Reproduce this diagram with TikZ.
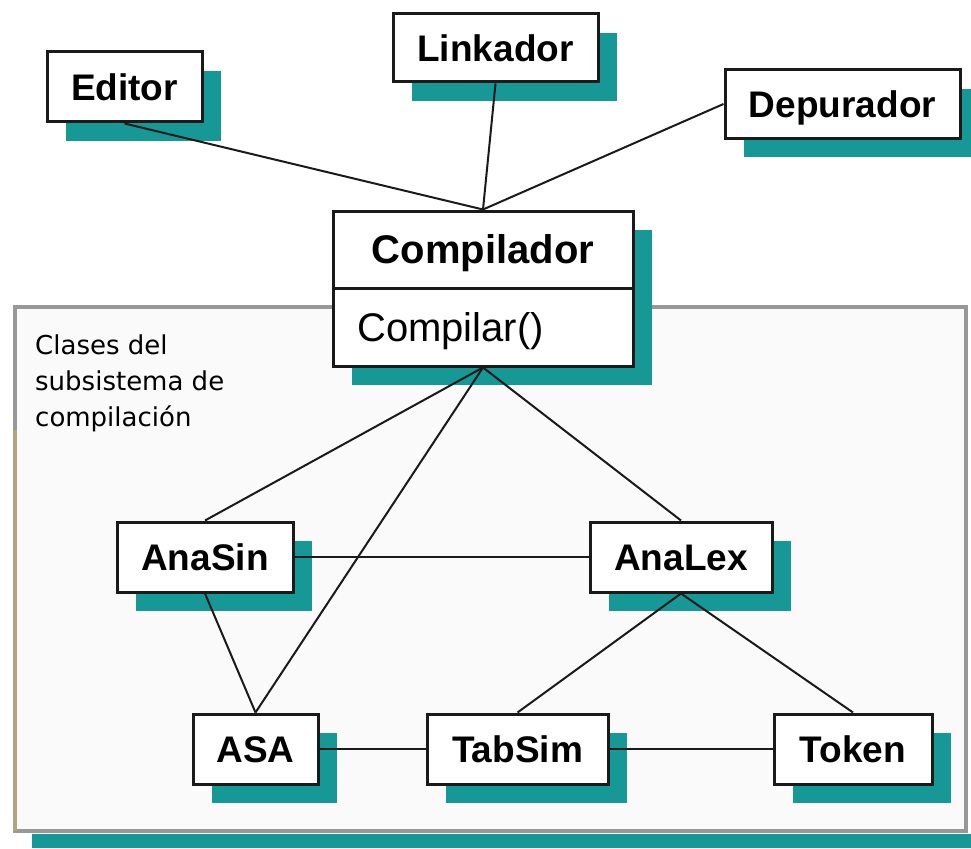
\documentclass[tikz,border=0pt]{standalone}
\usepackage{fontspec}
\setmainfont{Liberation Sans}
\newfontfamily\notefont{DejaVu Sans}
\usetikzlibrary{shadows}
\definecolor{shteal}{RGB}{22,152,150}
\definecolor{framegray}{RGB}{152,152,152}
\definecolor{frametan}{RGB}{176,164,128}
\definecolor{framefill}{RGB}{250,250,250}
\definecolor{ink}{RGB}{26,26,26}

\begin{document}
\begin{tikzpicture}[x=1pt,y=-1pt,
  classbox/.style={draw=ink, line width=3pt, fill=white, inner sep=0pt,
    minimum height=70pt, text height=27pt, text depth=0pt,
    font=\fontsize{37}{40}\selectfont\bfseries,
    drop shadow={fill=shteal, opacity=1, shadow xshift=19pt, shadow yshift=-19pt}},
  assoc/.style={draw=ink, line width=2pt}]

\useasboundingbox (0,0) rectangle (971,848);

% subsystem frame with its shadow strip
\fill[shteal] (32,834) rectangle (971,848);
\draw[framegray, line width=4pt, fill=framefill] (15,307) rectangle (966,831);
\draw[frametan, line width=4pt] (15,430) -- (15,831);

\node[anchor=north west, align=left, inner sep=0pt,
      font=\notefont\fontsize{26}{36}\selectfont] (note) at (35,335)
      {Clases del\\subsistema de\\compilación};

% classes outside the subsystem
\node[classbox, minimum width=155pt] (editor) at (124.5,87) {Editor};
\node[classbox, minimum width=205pt, minimum height=68pt] (linkador) at (495.5,48) {Linkador};
\node[classbox, minimum width=235pt, minimum height=68pt] (depurador) at (842.5,104) {Depurador};

% compiler facade: name and operation compartments
\node[classbox, minimum width=300pt, minimum height=155pt] (comp) at (483,288.5) {};
\draw[ink, line width=3pt] (comp.west) -- (comp.east);
\node[inner sep=0pt, text height=28pt, text depth=0pt,
      font=\fontsize{40}{44}\selectfont\bfseries] (compname) at (483,249) {Compilador};
\node[anchor=west, inner sep=0pt, text height=28pt, text depth=0pt,
      font=\fontsize{40}{44}\selectfont] (compop) at (357,327.5) {Compilar()};

% subsystem classes
\node[classbox, minimum width=176pt] (anasin) at (205,557) {AnaSin};
\node[classbox, minimum width=182pt] (analex) at (681,557) {AnaLex};
\node[classbox, minimum width=125pt] (asa) at (255.5,749) {ASA};
\node[classbox, minimum width=181pt] (tabsim) at (517.5,749) {TabSim};
\node[classbox, minimum width=158pt] (token) at (853,749) {Token};

% associations
\draw[assoc] (editor.south) -- (comp.north);
\draw[assoc] (linkador.south) -- (comp.north);
\draw[assoc] (depurador.west) -- (comp.north);
\draw[assoc] (comp.south) -- (anasin.north);
\draw[assoc] (comp.south) -- (asa.north);
\draw[assoc] (comp.south) -- (analex.north);
\draw[assoc] (anasin.east) -- (analex.west);
\draw[assoc] (anasin.south) -- (asa.north);
\draw[assoc] (analex.south) -- (tabsim.north);
\draw[assoc] (analex.south) -- (token.north);
\draw[assoc] (asa.east) -- (tabsim.west);
\draw[assoc] (tabsim.east) -- (token.west);
\end{tikzpicture}
\end{document}
